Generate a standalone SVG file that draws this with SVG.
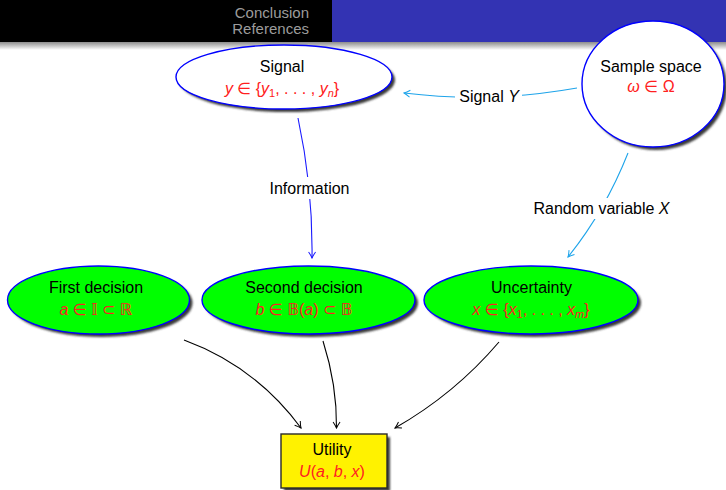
<svg xmlns="http://www.w3.org/2000/svg" width="726" height="490" viewBox="0 0 726 490">
<defs>
<linearGradient id="barShadow" x1="0" y1="0" x2="0" y2="1">
<stop offset="0" stop-color="#8c8c8c"/>
<stop offset="1" stop-color="#ffffff"/>
</linearGradient>
<filter id="soft" x="-10%" y="-10%" width="120%" height="130%">
<feGaussianBlur stdDeviation="0.9"/>
</filter>
<marker id="arrBlack" markerUnits="userSpaceOnUse" viewBox="-7 -5 8 10" refX="0" refY="0" markerWidth="8" markerHeight="10" orient="auto">
<path d="M-6,-3.5 Q-2.5,-1 0,0 Q-2.5,1 -6,3.5" fill="none" stroke="#000" stroke-width="1"/>
</marker>
<marker id="arrCyan" markerUnits="userSpaceOnUse" viewBox="-7 -5 8 10" refX="0" refY="0" markerWidth="8" markerHeight="10" orient="auto">
<path d="M-6,-3.5 Q-2.5,-1 0,0 Q-2.5,1 -6,3.5" fill="none" stroke="#1ea4ea" stroke-width="1"/>
</marker>
<marker id="arrBlue" markerUnits="userSpaceOnUse" viewBox="-7 -5 8 10" refX="0" refY="0" markerWidth="8" markerHeight="10" orient="auto">
<path d="M-6,-3.5 Q-2.5,-1 0,0 Q-2.5,1 -6,3.5" fill="none" stroke="#1a1aff" stroke-width="1"/>
</marker>
</defs>
<style>
text{font-family:"Liberation Sans","DejaVu Sans",sans-serif;font-size:16px}
.lbl{fill:#000;text-anchor:middle}
.math{fill:#ff2020;text-anchor:middle}
.it{font-style:italic}
.sub{font-size:11px}
.hdr{fill:#9c9c9c;font-size:15px;text-anchor:end}
.shadow{fill:#3a3a3a;filter:url(#soft)}
.white{fill:#ffffff;stroke:#0000ff;stroke-width:1.4}
.green{fill:#00ff00;stroke:#0000ff;stroke-width:1.4}
.util{fill:#fff200;stroke:#2a2a2a;stroke-width:1.4}
.e-black{fill:none;stroke:#000;stroke-width:1.1;marker-end:url(#arrBlack)}
.e-cyan{fill:none;stroke:#1ea4ea;stroke-width:1.1}
.e-blue{fill:none;stroke:#1a1aff;stroke-width:1.1}
.bs{font-family:"DejaVu Sans","Noto Sans",sans-serif}
</style>
<rect x="0" y="0" width="726" height="490" fill="#ffffff"/>
<g id="header">
<rect x="0" y="0" width="332" height="42" fill="#000000"/>
<rect x="332" y="0" width="394" height="42" fill="#3333b3"/>
<rect x="0" y="42" width="726" height="8" fill="url(#barShadow)"/>
<text class="hdr" x="309" y="18">Conclusion</text>
<text class="hdr" x="309" y="34">References</text>
</g>
<g id="connectors">
<path class="e-cyan" d="M577,88 Q489.5,103.5 404,93" marker-end="url(#arrCyan)"/>
<path class="e-cyan" d="M628,153 Q605,211 568,257" marker-end="url(#arrCyan)"/>
<path class="e-blue" d="M298,118 Q313,188 312,258" marker-end="url(#arrBlue)"/>
<path class="e-black" d="M184,340 Q255.7,366.4 301,428"/>
<path class="e-black" d="M323,341 Q337,385 336.5,428"/>
<path class="e-black" d="M499,342 Q454.7,394 395,428"/>
<rect x="455" y="85" width="67" height="21" fill="#ffffff"/>
<text class="lbl" x="489" y="101.5">Signal <tspan class="it">Y</tspan></text>
<rect x="528" y="198" width="147" height="21" fill="#ffffff"/>
<text class="lbl" x="601.5" y="214">Random variable <tspan class="it">X</tspan></text>
<rect x="265" y="177" width="90" height="22" fill="#ffffff"/>
<text class="lbl" x="309.5" y="194">Information</text>
</g>
<g id="signal">
<ellipse class="shadow" cx="287" cy="80" rx="108" ry="32"/>
<ellipse class="white" cx="284" cy="77" rx="108" ry="32"/>
<text class="lbl" x="282" y="72">Signal</text>
<text class="math" x="282" y="94"><tspan class="it">y</tspan> ∈ {<tspan class="it">y</tspan><tspan class="sub" dy="3">1</tspan><tspan dy="-3">, . . . , </tspan><tspan class="it">y</tspan><tspan class="sub it" dy="3">n</tspan><tspan dy="-3">}</tspan></text>
</g>
<g id="sample-space">
<ellipse class="shadow" cx="656" cy="87" rx="71" ry="63"/>
<ellipse class="white" cx="653" cy="84" rx="71" ry="63"/>
<text class="lbl" x="651" y="72">Sample space</text>
<text class="math" x="651" y="92"><tspan class="it">ω</tspan> ∈ Ω</text>
</g>
<g id="first-decision">
<ellipse class="shadow" cx="101.5" cy="303" rx="91" ry="34"/>
<ellipse class="green" cx="98.5" cy="300" rx="91" ry="34"/>
<text class="lbl" x="96" y="293">First decision</text>
<text class="math" x="96" y="315"><tspan class="it">a</tspan> ∈ <tspan class="bs">𝕀</tspan> ⊂ <tspan class="bs">ℝ</tspan></text>
</g>
<g id="second-decision">
<ellipse class="shadow" cx="311.5" cy="303" rx="106.5" ry="34"/>
<ellipse class="green" cx="308.5" cy="300" rx="106.5" ry="34"/>
<text class="lbl" x="304" y="293">Second decision</text>
<text class="math" x="304" y="315"><tspan class="it">b</tspan> ∈ <tspan class="bs">𝔹</tspan>(<tspan class="it">a</tspan>) ⊂ <tspan class="bs">𝔹</tspan></text>
</g>
<g id="uncertainty">
<ellipse class="shadow" cx="534" cy="303" rx="107" ry="34"/>
<ellipse class="green" cx="531" cy="300" rx="107" ry="34"/>
<text class="lbl" x="531.5" y="293">Uncertainty</text>
<text class="math" x="531" y="315"><tspan class="it">x</tspan> ∈ {<tspan class="it">x</tspan><tspan class="sub" dy="3">1</tspan><tspan dy="-3">, . . . , </tspan><tspan class="it">x</tspan><tspan class="sub it" dy="3">m</tspan><tspan dy="-3">}</tspan></text>
</g>
<g id="utility">
<rect class="shadow" x="284" y="437" width="106" height="54"/>
<rect class="util" x="281" y="434" width="106" height="54"/>
<text class="lbl" x="332" y="455">Utility</text>
<text class="math" x="332" y="477"><tspan class="it">U</tspan>(<tspan class="it">a</tspan>, <tspan class="it">b</tspan>, <tspan class="it">x</tspan>)</text>
</g>
</svg>
